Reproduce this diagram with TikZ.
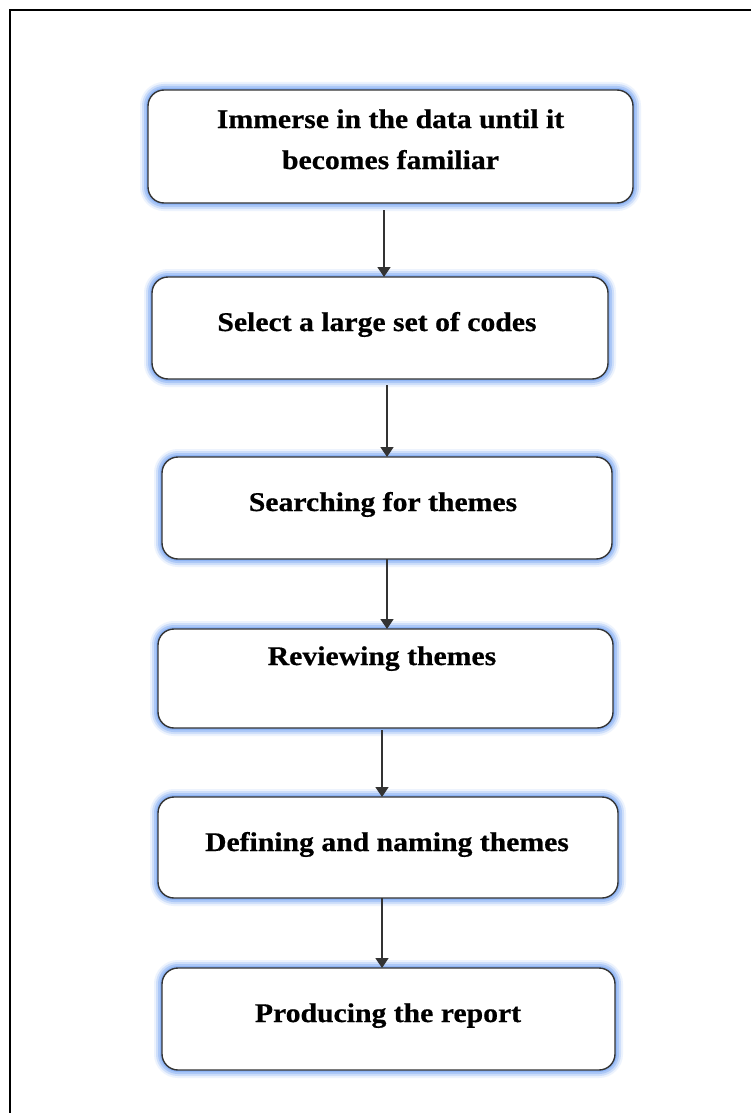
\documentclass[tikz,border=0pt]{standalone}
\usepackage{fontspec}
\setmainfont{Liberation Serif}
\newfontfamily\boxfont[FakeStretch=1.1,FakeBold=0.6]{Liberation Serif}
\usetikzlibrary{arrows.meta}

\definecolor{edge}{HTML}{333333}
\definecolor{halo}{HTML}{8AB2F6}

\tikzset{
  stepbox/.style={
    draw=edge, line width=1.4pt, fill=white, rounded corners=16pt,
    inner sep=0pt, outer sep=0pt,
    preaction={draw=halo, line width=16pt, draw opacity=0.15},
    preaction={draw=halo, line width=12pt, draw opacity=0.3},
    preaction={draw=halo, line width=8pt, draw opacity=0.5},
    preaction={draw=halo, line width=4pt, draw opacity=0.8}
  },
  steptext/.style={anchor=base, inner sep=0pt, align=center,
    font=\fontsize{27}{41}\boxfont\bfseries},
  link/.style={draw=edge, line width=1.5pt,
    -{Triangle[width=13pt,length=10pt]}}
}

\begin{document}
\begin{tikzpicture}[x=1pt,y=-1pt]
  \useasboundingbox (0,0) rectangle (751,1113);
  \clip (0,0) rectangle (751,1113);
  \fill[white] (0,0) rectangle (751,1113);
  % outer frame
  \draw[black, line width=2.6pt] (10,10) rectangle (800,1200);

  % process boxes
  \node[stepbox, minimum width=485pt, minimum height=113pt] (b1) at (390.5,146.5) {};
  \node[stepbox, minimum width=456pt, minimum height=102pt] (b2) at (380,328) {};
  \node[stepbox, minimum width=450pt, minimum height=102pt] (b3) at (387,508) {};
  \node[stepbox, minimum width=455pt, minimum height=99pt]  (b4) at (385.5,678.5) {};
  \node[stepbox, minimum width=460pt, minimum height=101pt] (b5) at (388,847.5) {};
  \node[stepbox, minimum width=453pt, minimum height=102pt] (b6) at (388.5,1019) {};

  % box labels (base anchor of a two-line label sits on its last line)
  \node[steptext] (t1) at (390.5,169) {Immerse in the data until it\\becomes familiar};
  \node[steptext] (t2) at (377,331) {Select a large set of codes};
  \node[steptext] (t3) at (383,511) {Searching for themes};
  \node[steptext] (t4) at (382,665) {Reviewing themes};
  \node[steptext] (t5) at (387,851) {Defining and naming themes};
  \node[steptext] (t6) at (388,1022) {Producing the report};

  % flow arrows
  \draw[link] ([xshift=-6.5pt,yshift=-7pt]b1.south) -- ([xshift=4pt]b2.north);
  \draw[link] ([xshift=7pt,yshift=-6pt]b2.south) -- (b3.north);
  \draw[link] (b3.south) -- ([xshift=1.5pt]b4.north);
  \draw[link] ([xshift=-3.5pt,yshift=-2pt]b4.south) -- ([xshift=-6pt]b5.north);
  \draw[link] ([xshift=-6pt]b5.south) -- ([xshift=-6.5pt]b6.north);
\end{tikzpicture}
\end{document}
